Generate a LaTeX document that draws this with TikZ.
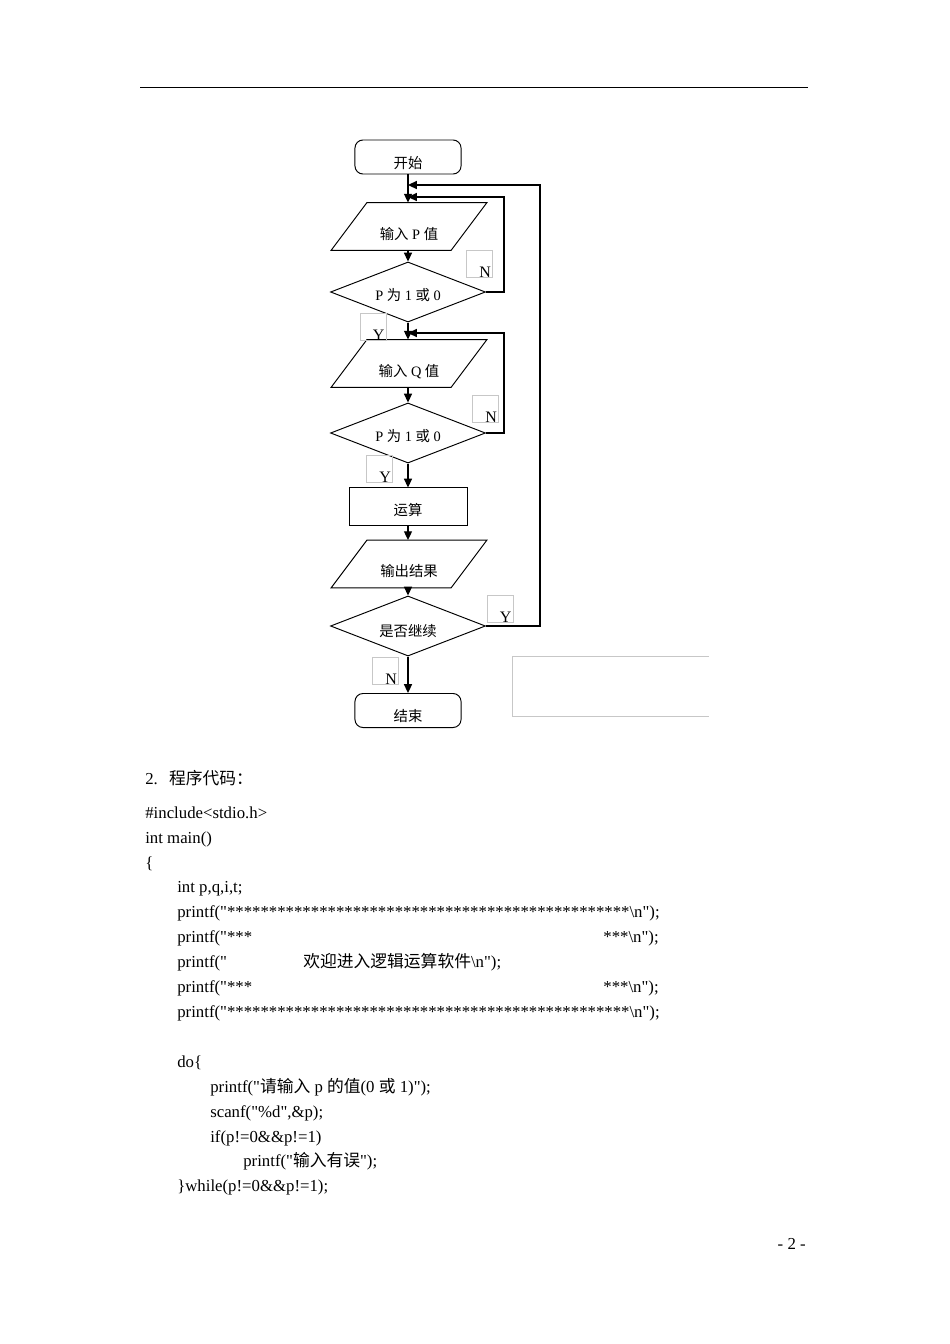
\documentclass[tikz,border=0pt]{standalone}
\usepackage{fontspec}
\setmainfont{Liberation Serif}[Ligatures=TeXOff]
\newfontfamily\cjk{Noto Sans CJK SC}
\usepackage{tikz}
\usetikzlibrary{shapes.geometric,arrows.meta}

\begin{document}
\begin{tikzpicture}[x=0.626pt, y=-0.626pt, >={Triangle[length=5.5pt,width=5pt]},
    chart/.style={draw, line width=0.6pt, inner sep=1pt, text height=12pt, text depth=1.2pt,
      font=\fontsize{9}{11}\selectfont},
    term/.style={chart, rounded corners=5pt, text height=15pt, minimum width=66.4pt, minimum height=21.3pt},
    io/.style={chart, draw=none, text height=17pt, minimum width=97pt, minimum height=29.4pt},
    test/.style={chart, diamond, aspect=2.6, minimum width=97pt, minimum height=37.6pt},
    proc/.style={chart, minimum width=73.9pt, minimum height=23.2pt},
    flow/.style={->, line width=0.9pt},
    tag/.style={draw=black!22, line width=0.4pt, minimum width=16.3pt, minimum height=16.9pt, inner sep=0pt},
    code/.style={anchor=base west, inner sep=0pt, font=\fontsize{10.5}{12}\selectfont}]

    \useasboundingbox (0,0) rectangle (950,1344);
    \fill[white] (0,0) rectangle (950,1344);
    \draw[line width=0.6pt] (140,87) -- (808,87);

    \node[term] (start) at (408,157) {{\cjk 开始}};
    \node[io] (inp) at (409,226.5) {{\cjk 输入} P {\cjk 值}};
    \node[test] (chk1) at (408,292) {P {\cjk 为} 1 {\cjk 或} 0};
    \node[io] (inq) at (409,363.5) {{\cjk 输入} Q {\cjk 值}};
    \node[test] (chk2) at (408,433) {P {\cjk 为} 1 {\cjk 或} 0};
    \node[proc] (calc) at (408,506.5) {{\cjk 运算}};
    \node[io] (outp) at (409,564) {{\cjk 输出结果}};
    \node[test, text height=14pt] (cont) at (408,626) {{\cjk 是否继续}};
    \node[term] (stop) at (408,710.5) {{\cjk 结束}};

    \foreach \n in {inp,inq,outp}
      \draw[line width=0.6pt] (\n.south west) -- ([xshift=22.5pt]\n.north west) -- (\n.north east)
        -- ([xshift=-22.5pt]\n.south east) -- cycle;

    \coordinate (j1) at (408,197);
    \coordinate (j2) at (408,185);
    \coordinate (j3) at (408,333);

    \draw[flow] (start.south) -- (inp.north -| start.south);
    \draw[flow] (inp.south -| chk1.north) -- (chk1.north);
    \draw[flow] (chk1.south) -- (inq.north -| chk1.south);
    \draw[flow] (inq.south -| chk2.north) -- (chk2.north);
    \draw[flow] (chk2.south) -- (calc.north);
    \draw[flow] (calc.south) -- (outp.north -| calc.south);
    \draw[flow] (outp.south -| cont.north) -- (cont.north);
    \draw[flow] (cont.south) -- (stop.north);
    \draw[flow] (chk1.east) -- ++(18,0) |- (j1);
    \draw[flow] (chk2.east) -- ++(18,0) |- (j3);
    \draw[flow] (cont.east) -- ++(54,0) |- (j2);

    \node[tag, label={[anchor=base east, inner sep=1pt]south east:N}] (n1) at (479.5,264) {};
    \node[tag, label={[anchor=base east, inner sep=1pt]south east:Y}] (y1) at (373,326.5) {};
    \node[tag, label={[anchor=base east, inner sep=1pt]south east:N}] (n2) at (485.5,408.5) {};
    \node[tag, label={[anchor=base east, inner sep=1pt]south east:Y}] (y2) at (379.5,469) {};
    \node[tag, label={[anchor=base east, inner sep=1pt]south east:Y}] (y3) at (500,608.5) {};
    \node[tag, label={[anchor=base east, inner sep=1pt]south east:N}] (n3) at (385.5,670.5) {};

    \draw[black!22, line width=0.5pt] (709,656) -| (512,716) -- (709,716);

    \node[code] (t1) at (145,784) {2.\hspace{7pt}{\cjk 程序代码：}};
    \node[code] (t2) at (145,818) {\#include<stdio.h>};
    \node[code] (t3) at (145,843) {int main()};
    \node[code] (t4) at (145,868) {\{};
    \node[code] (t5) at (177,892) {int p,q,i,t;};
    \node[code] (t6) at (177,917) {printf("************************************************\textbackslash n");};
    \node[code] (t7) at (177,942) {printf("***};
    \node[code, anchor=base east] (t7b) at (659,942) {***\textbackslash n");};
    \node[code] (t8) at (177,967) {printf("};
    \node[code] (t8b) at (303,967) {{\cjk 欢迎进入逻辑运算软件}\textbackslash n");};
    \node[code] (t9) at (177,992) {printf("***};
    \node[code, anchor=base east] (t9b) at (659,992) {***\textbackslash n");};
    \node[code] (t10) at (177,1017) {printf("************************************************\textbackslash n");};

    \node[code] (t11) at (177,1067) {do\{};
    \node[code] (t12) at (210,1092) {printf("{\cjk 请输入} p {\cjk 的值}(0 {\cjk 或} 1)");};
    \node[code] (t13) at (210,1117) {scanf("\%d",\&p);};
    \node[code] (t14) at (210,1142) {if(p!=0\&\&p!=1)};
    \node[code] (t15) at (243,1166) {printf("{\cjk 输入有误}");};
    \node[code] (t16) at (177,1191) {\}while(p!=0\&\&p!=1);};

    \node[code, anchor=base east] (page) at (806,1249) {- 2 -};

  \end{tikzpicture}
\end{document}
